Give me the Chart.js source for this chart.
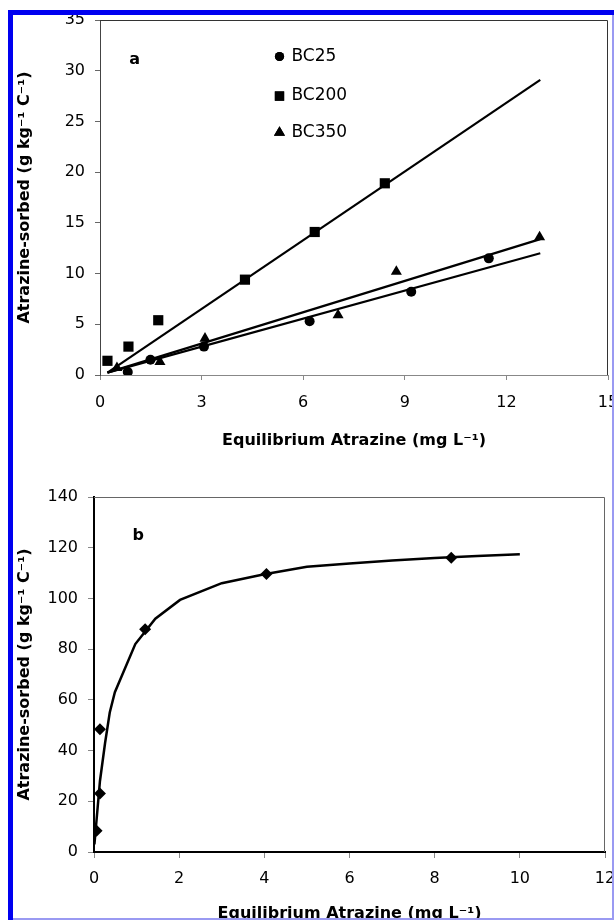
<!DOCTYPE html>
<html>
<head>
<meta charset="utf-8">
<script src="https://cdn.jsdelivr.net/npm/chart.js@4.4.1/dist/chart.umd.min.js"></script>
<style>
  html, body { margin: 0; padding: 0; background: #fff; }
  #page { position: relative; width: 614px; height: 920px; overflow: hidden; background: #fff; }
  canvas { position: absolute; left: 0; }
  #chartA { top: 0; }
  #chartB { top: 460px; }
  .edge { position: absolute; z-index: 5; }
</style>
</head>
<body>
<div id="page">
  <canvas id="chartA" width="640" height="460"></canvas>
  <canvas id="chartB" width="640" height="470"></canvas>
  <div class="edge" style="left:8px; top:10px; width:606px; height:5px; background:#0000f0;"></div>
  <div class="edge" style="left:8px; top:10px; width:5px; height:910px; background:#0000f0;"></div>
  <div class="edge" style="left:612px; top:15px; width:2px; height:905px; background:#9a9af2;"></div>
  <div class="edge" style="left:13px; top:918px; width:601px; height:2px; background:#9a9af2;"></div>
</div>
<script>
// panel a - sorption by three biochars
const seriesNames = ['BC25', 'BC200', 'BC350'];
const bc25X = [0.82, 1.49, 3.07, 6.19, 9.19, 11.48];
const bc25Y = [0.3, 1.5, 2.8, 5.3, 8.2, 11.5];
const bc200X = [0.22, 0.84, 1.72, 4.28, 6.34, 8.41];
const bc200Y = [1.4, 2.8, 5.4, 9.4, 14.1, 18.9];
const bc350X = [0.5, 1.77, 3.1, 7.03, 8.75, 12.98];
const bc350Y = [0.7, 1.3, 3.6, 5.9, 10.2, 13.6];

// straight fit lines (start, end)
const fitX = [0.22, 13.0];
const bc25FitY = [0.23, 12.0];
const bc200FitY = [0.23, 29.1];
const bc350FitY = [0.23, 13.4];

// panel b - BC25 isotherm
const isoX = [0.06, 0.14, 0.14, 1.2, 4.05, 8.39];
const isoY = [8.4, 23.1, 48.4, 87.8, 109.6, 116.0];
const curveX = [0.01, 0.14, 0.26, 0.37, 0.49, 0.97, 1.44, 2.02, 3.0, 4.0, 5.0, 6.0, 7.0, 8.0, 9.0, 10.0];
const curveY = [3, 28, 43, 55, 63, 82, 92, 99.4, 106, 109.5, 112.5, 113.8, 115, 115.9, 116.7, 117.4];

const xTitle = 'Equilibrium Atrazine (mg L\u207B\u00B9)';
const yTitle = 'Atrazine-sorbed (g kg\u207B\u00B9 C\u207B\u00B9)';

Chart.defaults.font.family = '"DejaVu Sans", "Liberation Sans", Arial, sans-serif';
Chart.defaults.font.size = 16;
Chart.defaults.color = '#000';

const pts = (xs, ys) => xs.map((x, i) => ({ x, y: ys[i] }));

// top/right sides of the plot box
const framePlugin = {
  id: 'frame',
  afterDatasetsDraw(chart, args, opts) {
    const { ctx, chartArea: a } = chart;
    ctx.save();
    ctx.strokeStyle = opts.color;
    ctx.lineWidth = 1;
    ctx.beginPath();
    ctx.moveTo(a.left, a.top + 0.5);
    ctx.lineTo(a.right - 0.5, a.top + 0.5);
    ctx.lineTo(a.right - 0.5, a.bottom);
    ctx.stroke();
    ctx.restore();
  }
};

// panel letter + in-plot legend
const notePlugin = {
  id: 'notes',
  afterDraw(chart, args, opts) {
    const { ctx, scales: { x, y } } = chart;
    ctx.save();
    ctx.fillStyle = '#000';
    ctx.textBaseline = 'middle';
    ctx.textAlign = 'center';
    ctx.font = 'bold 16px "DejaVu Sans", sans-serif';
    ctx.fillText(opts.letter, x.getPixelForValue(opts.letterAt[0]), y.getPixelForValue(opts.letterAt[1]));
    if (opts.legend) {
      ctx.textAlign = 'left';
      ctx.font = '17px "DejaVu Sans", sans-serif';
      chart.data.datasets.forEach((ds) => {
        const row = opts.legend.rows.indexOf(ds.label);
        if (row < 0) return;
        const px = x.getPixelForValue(opts.legend.x);
        const py = y.getPixelForValue(opts.legend.y[row]);
        Chart.helpers.drawPoint(ctx, {
          pointStyle: ds.pointStyle, radius: opts.legend.radius[row], rotation: 0, borderWidth: 0
        }, px, py);
        ctx.fill();
        ctx.fillText(ds.label, px + 12, py);
      });
    }
    ctx.restore();
  }
};

function scatterSet(label, data, style, r) {
  return {
    label, data, pointStyle: style, pointRadius: r,
    backgroundColor: '#000', borderColor: '#000', borderWidth: 0, showLine: false
  };
}
function lineSet(label, data, w) {
  return {
    label, data, showLine: true, pointRadius: 0, borderColor: '#000',
    borderWidth: w, tension: 0, fill: false
  };
}

new Chart(document.getElementById('chartA'), {
  type: 'scatter',
  data: {
    datasets: [
      lineSet('fit BC200', pts(fitX, bc200FitY), 2.2),
      lineSet('fit BC350', pts(fitX, bc350FitY), 2.2),
      lineSet('fit BC25', pts(fitX, bc25FitY), 2.2),
      scatterSet(seriesNames[0], pts(bc25X, bc25Y), 'circle', 5),
      scatterSet(seriesNames[1], pts(bc200X, bc200Y), 'rect', 7.2),
      scatterSet(seriesNames[2], pts(bc350X, bc350Y), 'triangle', 6.4)
    ]
  },
  options: {
    responsive: false,
    animation: false,
    devicePixelRatio: 1,
    layout: { padding: { top: 20, right: 32, left: 0, bottom: 0 } },
    scales: {
      x: {
        type: 'linear', min: 0, max: 15,
        ticks: { stepSize: 3, padding: 13 },
        grid: { drawOnChartArea: false, tickLength: 5, color: '#888' },
        border: { color: '#888', width: 1 },
        title: { display: true, text: xTitle, font: { weight: 'bold', size: 16 }, padding: { bottom: 10 } },
        afterFit: s => { s.height = 85; }
      },
      y: {
        type: 'linear', min: 0, max: 35,
        ticks: { stepSize: 5, padding: 10 },
        grid: { drawOnChartArea: false, tickLength: 5, color: '#666' },
        border: { color: '#444', width: 1 },
        title: { display: true, text: yTitle, font: { weight: 'bold', size: 16 }, padding: { top: 15 } },
        afterFit: s => { s.width = 100; }
      }
    },
    plugins: {
      legend: { display: false },
      tooltip: { enabled: false },
      frame: { color: '#333' },
      notes: {
        letter: 'a', letterAt: [1.02, 31.1],
        legend: { rows: seriesNames, x: 5.3, y: [31.4, 27.5, 23.9], radius: [4.6, 6.6, 6.4] }
      }
    }
  },
  plugins: [framePlugin, notePlugin]
});

new Chart(document.getElementById('chartB'), {
  type: 'scatter',
  data: {
    datasets: [
      lineSet('Langmuir fit', pts(curveX, curveY), 2.5),
      scatterSet('BC25', pts(isoX, isoY), 'rectRot', 6)
    ]
  },
  options: {
    responsive: false,
    animation: false,
    devicePixelRatio: 1,
    layout: { padding: { top: 37, right: 35, left: 0, bottom: 0 } },
    scales: {
      x: {
        type: 'linear', min: 0, max: 12,
        ticks: { stepSize: 2, padding: 11 },
        grid: { drawOnChartArea: false, tickLength: 6, color: '#888' },
        border: { color: '#000', width: 2 },
        title: { display: true, text: xTitle, font: { weight: 'bold', size: 16 }, padding: { bottom: 7 } },
        afterFit: s => { s.height = 78; }
      },
      y: {
        type: 'linear', min: 0, max: 140,
        ticks: { stepSize: 20, padding: 10 },
        grid: { drawOnChartArea: false, tickLength: 6, color: '#888' },
        border: { color: '#000', width: 2 },
        title: { display: true, text: yTitle, font: { weight: 'bold', size: 16 }, padding: { top: 15 } },
        afterFit: s => { s.width = 94; }
      }
    },
    plugins: {
      legend: { display: false },
      tooltip: { enabled: false },
      frame: { color: '#666' },
      notes: { letter: 'b', letterAt: [1.04, 124.6] }
    }
  },
  plugins: [framePlugin, notePlugin]
});
</script>
</body>
</html>
